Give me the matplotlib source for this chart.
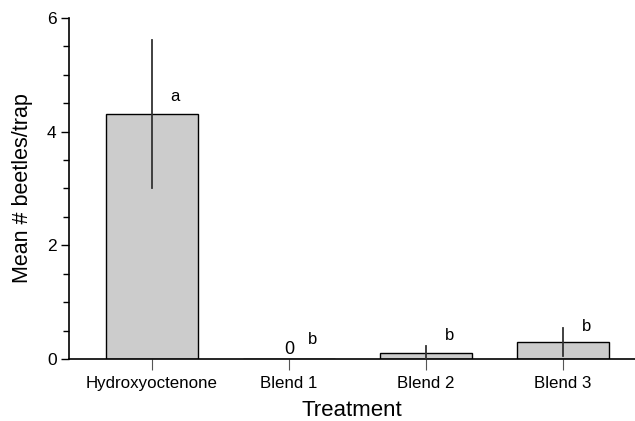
import matplotlib
matplotlib.use("Agg")
import matplotlib.pyplot as plt
import numpy as np

categories = ["Hydroxyoctenone", "Blend 1", "Blend 2", "Blend 3"]
means = [4.31, 0.0, 0.11, 0.30]
errors = [1.31, 0.0, 0.11, 0.24]
letters = ["a", "b", "b", "b"]
letter_heights = [4.61, 0.35, 0.42, 0.58]
zero_labels = ["", "0", "", ""]

plt.rcParams['font.family'] = ['Liberation Sans', 'DejaVu Sans']

fig = plt.figure(figsize=(6.35, 4.21), dpi=100)
ax = fig.add_axes([0.1087, 0.1473, 0.8913, 0.8100])

x = np.arange(len(categories))
ax.bar(x, means, width=0.67, color="#cccccc", edgecolor="black", linewidth=1.0, zorder=2)
for xi, m, e in zip(x, means, errors):
    if e > 0:
        ax.plot([xi, xi], [m - e, m + e], color="#333333", linewidth=1.3, zorder=3)

for xi, lt, h in zip(x, letters, letter_heights):
    ax.text(xi + 0.17, h, lt, fontsize=12, ha="center", va="center")
for xi, z in zip(x, zero_labels):
    if z:
        ax.text(xi, 0.02, z, fontsize=13, ha="center", va="bottom")

ax.set_xlim(-0.606, 3.526)
ax.set_ylim(0, 6)
ax.set_yticks([0, 2, 4, 6])
ax.set_yticks(np.arange(0, 6.01, 0.5), minor=True)
ax.set_xticks(x)
ax.set_xticklabels(categories, fontsize=12.2)
ax.tick_params(axis='y', labelsize=12.5, length=6, width=1, direction='out', pad=3)
ax.tick_params(axis='y', which='minor', length=4, width=1)
ax.tick_params(axis='x', length=8, width=0.8, color="#555555", pad=4)

for s in ["top", "right"]:
    ax.spines[s].set_visible(False)
ax.spines["left"].set_linewidth(1.2)
ax.spines["bottom"].set_linewidth(1.2)

ax.set_xlabel("Treatment", fontsize=16, labelpad=7)
ax.set_ylabel("Mean # beetles/trap", fontsize=15.5, labelpad=10)

fig.savefig("out.png", dpi=100)
